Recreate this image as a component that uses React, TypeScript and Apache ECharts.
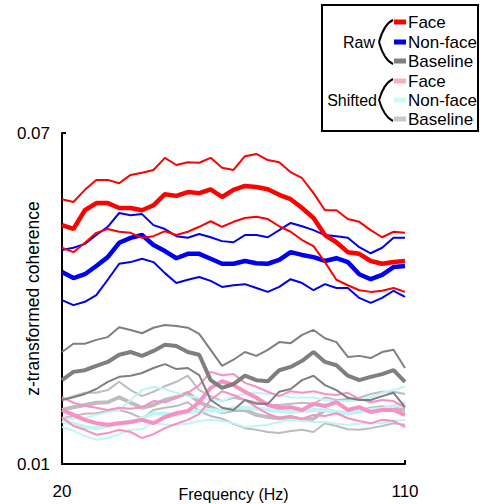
import React, { useEffect, useRef } from "react";
import * as echarts from "echarts";

const freqs = [20, 23, 26, 29, 32, 35, 38, 41, 44, 47, 50, 53, 56, 59, 62, 65, 68, 71, 74, 77, 80, 83, 86, 89, 92, 95, 98, 101, 104, 107, 110];

const rawFaceUpper = [0.0580, 0.0575, 0.0597, 0.0615, 0.0615, 0.0609, 0.0624, 0.0628, 0.0633, 0.0655, 0.0642, 0.0647, 0.0646, 0.0655, 0.0637, 0.0633, 0.0658, 0.0662, 0.0651, 0.0647, 0.0629, 0.0618, 0.0591, 0.0560, 0.0560, 0.0544, 0.0539, 0.0524, 0.0511, 0.0521, 0.0519];
const rawFaceMean = [0.0533, 0.0526, 0.0560, 0.0573, 0.0573, 0.0564, 0.0564, 0.0560, 0.0569, 0.0589, 0.0586, 0.0593, 0.0591, 0.0598, 0.0584, 0.0597, 0.0604, 0.0602, 0.0598, 0.0588, 0.0580, 0.0564, 0.0546, 0.0515, 0.0502, 0.0484, 0.0481, 0.0468, 0.0463, 0.0466, 0.0468];
const rawFaceLower = [0.0492, 0.0484, 0.0501, 0.0519, 0.0526, 0.0521, 0.0519, 0.0510, 0.0513, 0.0522, 0.0515, 0.0521, 0.0530, 0.0540, 0.0530, 0.0539, 0.0546, 0.0548, 0.0544, 0.0531, 0.0521, 0.0506, 0.0495, 0.0466, 0.0434, 0.0424, 0.0415, 0.0412, 0.0414, 0.0419, 0.0412];

const rawNonUpper = [0.0488, 0.0492, 0.0499, 0.0515, 0.0530, 0.0555, 0.0551, 0.0553, 0.0533, 0.0526, 0.0513, 0.0510, 0.0517, 0.0511, 0.0504, 0.0502, 0.0515, 0.0515, 0.0511, 0.0524, 0.0537, 0.0531, 0.0524, 0.0515, 0.0513, 0.0510, 0.0493, 0.0482, 0.0492, 0.0510, 0.0510];
const rawNonMean = [0.0448, 0.0437, 0.0444, 0.0459, 0.0475, 0.0501, 0.0510, 0.0515, 0.0497, 0.0486, 0.0473, 0.0481, 0.0481, 0.0472, 0.0463, 0.0463, 0.0468, 0.0464, 0.0463, 0.0470, 0.0484, 0.0479, 0.0475, 0.0468, 0.0473, 0.0466, 0.0444, 0.0435, 0.0443, 0.0457, 0.0459];
const rawNonLower = [0.0397, 0.0388, 0.0394, 0.0406, 0.0434, 0.0463, 0.0466, 0.0472, 0.0466, 0.0446, 0.0428, 0.0434, 0.0439, 0.0432, 0.0421, 0.0424, 0.0426, 0.0419, 0.0412, 0.0421, 0.0435, 0.0428, 0.0415, 0.0426, 0.0419, 0.0419, 0.0401, 0.0392, 0.0401, 0.0414, 0.0403];

const rawBaseUpper = [0.0303, 0.0318, 0.0318, 0.0325, 0.0330, 0.0348, 0.0343, 0.0337, 0.0347, 0.0352, 0.0350, 0.0347, 0.0336, 0.0307, 0.0278, 0.0289, 0.0303, 0.0296, 0.0307, 0.0321, 0.0319, 0.0334, 0.0343, 0.0328, 0.0321, 0.0294, 0.0296, 0.0292, 0.0303, 0.0307, 0.0274];
const rawBaseMean = [0.0252, 0.0267, 0.0270, 0.0278, 0.0285, 0.0298, 0.0303, 0.0296, 0.0305, 0.0316, 0.0314, 0.0303, 0.0298, 0.0252, 0.0238, 0.0245, 0.0260, 0.0252, 0.0250, 0.0270, 0.0276, 0.0287, 0.0303, 0.0285, 0.0279, 0.0260, 0.0252, 0.0258, 0.0263, 0.0270, 0.0249];
const rawBaseLower = [0.0216, 0.0221, 0.0227, 0.0236, 0.0249, 0.0258, 0.0260, 0.0265, 0.0274, 0.0281, 0.0272, 0.0274, 0.0261, 0.0216, 0.0202, 0.0198, 0.0216, 0.0209, 0.0209, 0.0231, 0.0236, 0.0252, 0.0260, 0.0243, 0.0234, 0.0220, 0.0216, 0.0216, 0.0223, 0.0229, 0.0203];

const shFaceUpper = [0.0221, 0.0211, 0.0205, 0.0202, 0.0198, 0.0202, 0.0200, 0.0203, 0.0214, 0.0212, 0.0220, 0.0229, 0.0243, 0.0267, 0.0261, 0.0263, 0.0247, 0.0240, 0.0231, 0.0223, 0.0232, 0.0229, 0.0232, 0.0227, 0.0225, 0.0229, 0.0218, 0.0212, 0.0216, 0.0214, 0.0202];
const shFaceMean = [0.0198, 0.0189, 0.0180, 0.0174, 0.0171, 0.0174, 0.0176, 0.0180, 0.0174, 0.0185, 0.0192, 0.0196, 0.0212, 0.0238, 0.0250, 0.0243, 0.0231, 0.0220, 0.0207, 0.0202, 0.0203, 0.0198, 0.0209, 0.0205, 0.0212, 0.0198, 0.0203, 0.0194, 0.0198, 0.0198, 0.0189];
const shFaceLower = [0.0185, 0.0169, 0.0162, 0.0153, 0.0156, 0.0162, 0.0158, 0.0147, 0.0154, 0.0165, 0.0173, 0.0180, 0.0191, 0.0216, 0.0232, 0.0225, 0.0216, 0.0203, 0.0191, 0.0183, 0.0187, 0.0182, 0.0189, 0.0187, 0.0192, 0.0183, 0.0178, 0.0174, 0.0180, 0.0178, 0.0167];

const shNonUpper = [0.0183, 0.0182, 0.0183, 0.0189, 0.0194, 0.0198, 0.0216, 0.0234, 0.0240, 0.0236, 0.0229, 0.0223, 0.0220, 0.0216, 0.0214, 0.0223, 0.0227, 0.0229, 0.0227, 0.0225, 0.0221, 0.0220, 0.0221, 0.0216, 0.0214, 0.0214, 0.0216, 0.0221, 0.0229, 0.0234, 0.0241];
const shNonMean = [0.0178, 0.0173, 0.0167, 0.0165, 0.0169, 0.0174, 0.0176, 0.0183, 0.0192, 0.0191, 0.0189, 0.0194, 0.0196, 0.0198, 0.0196, 0.0202, 0.0202, 0.0200, 0.0198, 0.0196, 0.0194, 0.0196, 0.0198, 0.0198, 0.0194, 0.0192, 0.0196, 0.0198, 0.0200, 0.0205, 0.0211];
const shNonLower = [0.0167, 0.0160, 0.0151, 0.0144, 0.0147, 0.0154, 0.0162, 0.0163, 0.0176, 0.0171, 0.0171, 0.0173, 0.0178, 0.0180, 0.0178, 0.0174, 0.0167, 0.0169, 0.0171, 0.0176, 0.0180, 0.0178, 0.0176, 0.0176, 0.0173, 0.0171, 0.0173, 0.0174, 0.0174, 0.0178, 0.0180];

const shBaseUpper = [0.0216, 0.0223, 0.0229, 0.0229, 0.0234, 0.0249, 0.0234, 0.0223, 0.0231, 0.0241, 0.0249, 0.0260, 0.0234, 0.0223, 0.0214, 0.0220, 0.0216, 0.0212, 0.0207, 0.0207, 0.0209, 0.0211, 0.0209, 0.0221, 0.0216, 0.0218, 0.0220, 0.0227, 0.0231, 0.0231, 0.0227];
const shBaseMean = [0.0198, 0.0203, 0.0207, 0.0211, 0.0212, 0.0221, 0.0211, 0.0202, 0.0207, 0.0216, 0.0221, 0.0229, 0.0212, 0.0203, 0.0194, 0.0198, 0.0198, 0.0189, 0.0185, 0.0183, 0.0185, 0.0180, 0.0182, 0.0198, 0.0194, 0.0192, 0.0196, 0.0200, 0.0203, 0.0200, 0.0198];
const shBaseLower = [0.0183, 0.0187, 0.0191, 0.0192, 0.0196, 0.0198, 0.0192, 0.0183, 0.0198, 0.0202, 0.0205, 0.0212, 0.0196, 0.0187, 0.0182, 0.0173, 0.0165, 0.0162, 0.0158, 0.0156, 0.0160, 0.0162, 0.0158, 0.0174, 0.0169, 0.0163, 0.0162, 0.0165, 0.0169, 0.0174, 0.0171];

const xTickValues = [20, 110];
const yTickValues = [0.01, 0.07];

const FONT = "Liberation Sans, Arial, sans-serif";

const C = {
  red: "#ff0000",
  blue: "#0000f0",
  gray: "#7f7f7f",
  pink: "#f98fc4",
  cyan: "#bff5f5",
  lgray: "#bdbdbd",
};

function mk(name: string, vals: number[], color: string, width: number, z: number) {
  return {
    name,
    type: "line",
    data: freqs.map((f, i) => [f, vals[i]]),
    showSymbol: false,
    symbol: "none",
    silent: true,
    z,
    lineStyle: { color, width },
    emphasis: { disabled: true },
  };
}

export default function App() {
  const ref = useRef<HTMLDivElement>(null);
  useEffect(() => {
    if (!ref.current) return;
    const chart = echarts.init(ref.current, null, { renderer: "svg" });
    const legendRows = [
      { label: "Face", color: "#ff0000", y: 22 },
      { label: "Non-face", color: "#0000f0", y: 42 },
      { label: "Baseline", color: "#7f7f7f", y: 61 },
      { label: "Face", color: "#f9b0bb", y: 81 },
      { label: "Non-face", color: "#ccfafa", y: 100 },
      { label: "Baseline", color: "#c8c8c8", y: 119 },
    ];
    const graphics: any[] = [
      {
        type: "rect",
        shape: { x: 322, y: 5, width: 156, height: 126 },
        style: { fill: "#fff", stroke: "#000", lineWidth: 2 },
        z: 100,
      },
      {
        type: "text",
        x: 233.5,
        y: 494,
        style: { text: "Frequency (Hz)", font: `16px ${FONT}`, fill: "#000", align: "center", verticalAlign: "middle" },
        z: 101,
      },
      {
        type: "text",
        x: 33,
        y: 298.5,
        rotation: Math.PI / 2,
        style: { text: "z-transformed coherence", font: `17.5px ${FONT}`, fill: "#000", align: "center", verticalAlign: "middle" },
        z: 101,
      },
    ];
    legendRows.forEach((r) => {
      graphics.push({
        type: "line",
        shape: { x1: 394, y1: r.y, x2: 406, y2: r.y },
        style: { stroke: r.color, lineWidth: 5 },
        z: 101,
      });
      graphics.push({
        type: "text",
        x: 408,
        y: r.y,
        style: { text: r.label, font: `17px ${FONT}`, fill: "#000", verticalAlign: "middle" },
        z: 101,
      });
    });
    graphics.push(
      {
        type: "text",
        x: 375,
        y: 42,
        style: { text: "Raw", font: `16px ${FONT}`, fill: "#000", align: "right", verticalAlign: "middle" },
        z: 101,
      },
      {
        type: "text",
        x: 377,
        y: 100,
        style: { text: "Shifted", font: `16px ${FONT}`, fill: "#000", align: "right", verticalAlign: "middle" },
        z: 101,
      }
    );
    const braces = [
      [20, 42, 64],
      [79, 100, 121],
    ];
    braces.forEach(([t, m, b]) => {
      graphics.push(
        {
          type: "bezierCurve",
          shape: { x1: 393, y1: t, cpx1: 384, cpy1: t + 4, x2: 379, y2: m },
          style: { stroke: "#000", lineWidth: 2, fill: null },
          z: 101,
        },
        {
          type: "bezierCurve",
          shape: { x1: 379, y1: m, cpx1: 384, cpy1: b - 4, x2: 393, y2: b },
          style: { stroke: "#000", lineWidth: 2, fill: null },
          z: 101,
        }
      );
    });

    chart.setOption({
      animation: false,
      backgroundColor: "#fff",
      grid: { left: 62, right: 79, top: 133, bottom: 40, containLabel: false, outerBoundsMode: "none" },
      xAxis: {
        type: "value",
        min: 20,
        max: 110,
        axisLine: { show: true, lineStyle: { color: "#000", width: 2 } },
        axisTick: { show: true, inside: true, length: 4, customValues: [110], lineStyle: { color: "#000", width: 2 } },
        axisLabel: {
          customValues: xTickValues,
          fontFamily: FONT,
          fontSize: 17,
          color: "#000",
          margin: 19,
        },
        splitLine: { show: false },
      },
      yAxis: {
        type: "value",
        min: 0.01,
        max: 0.07,
        axisLine: { show: true, lineStyle: { color: "#000", width: 2 } },
        axisTick: { show: true, inside: true, length: 4, customValues: [0.07], lineStyle: { color: "#000", width: 2 } },
        axisLabel: {
          customValues: yTickValues,
          fontFamily: FONT,
          fontSize: 17,
          color: "#000",
          margin: 12,
          formatter: (v: number) => v.toFixed(2),
        },
        splitLine: { show: false },
      },
      series: [
        mk("Shifted Baseline upper", shBaseUpper, C.lgray, 2, 1),
        mk("Shifted Baseline lower", shBaseLower, C.lgray, 2, 1),
        mk("Shifted Baseline", shBaseMean, C.lgray, 4, 1),
        mk("Shifted Non-face upper", shNonUpper, C.cyan, 2, 2),
        mk("Shifted Non-face lower", shNonLower, C.cyan, 2, 2),
        mk("Shifted Non-face", shNonMean, C.cyan, 4, 2),
        mk("Shifted Face upper", shFaceUpper, C.pink, 2, 3),
        mk("Shifted Face lower", shFaceLower, C.pink, 2, 3),
        mk("Shifted Face", shFaceMean, C.pink, 4, 3),
        mk("Raw Baseline upper", rawBaseUpper, C.gray, 2, 4),
        mk("Raw Baseline lower", rawBaseLower, C.gray, 2, 4),
        mk("Raw Baseline", rawBaseMean, C.gray, 4, 4),
        mk("Raw Non-face upper", rawNonUpper, C.blue, 2, 5),
        mk("Raw Non-face lower", rawNonLower, C.blue, 2, 5),
        mk("Raw Non-face", rawNonMean, C.blue, 4.5, 5),
        mk("Raw Face upper", rawFaceUpper, C.red, 2, 6),
        mk("Raw Face lower", rawFaceLower, C.red, 2, 6),
        mk("Raw Face", rawFaceMean, C.red, 4.5, 6),
      ],
      graphic: graphics,
    });
    return () => chart.dispose();
  }, []);
  return (
    <div
      ref={ref}
      style={{ position: "absolute", left: 0, top: 0, width: 484, height: 504, background: "#fff" }}
    />
  );
}
